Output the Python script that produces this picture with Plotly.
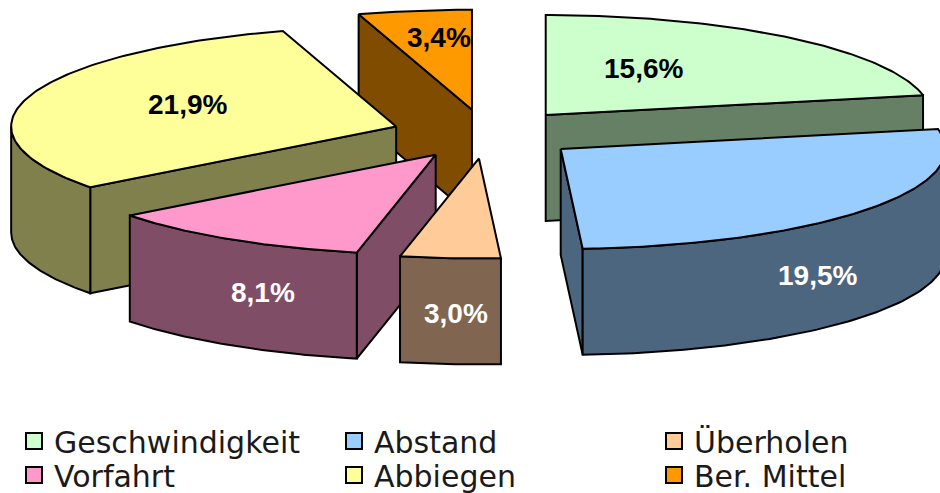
import numpy as np
import plotly.graph_objects as go

# Data
categories = ["Geschwindigkeit", "Abstand", "Überholen", "Vorfahrt", "Abbiegen", "Ber. Mittel"]
values = [15.6, 19.5, 3.0, 8.1, 21.9, 3.4]

# Style
top_colors = ["#CCFFCC", "#99CCFF", "#FFCC99", "#FF99CC", "#FFFF99", "#FF9900"]
side_colors = ["#668066", "#4D6680", "#806650", "#804D66", "#80804D", "#804D00"]
label_colors = ["black", "white", "white", "white", "black", "black"]
label_pos = [(643, 68), (817, 275), (456, 313), (263, 292), (187, 104), (439, 37)]
legend_ids = ["legend", "legend2", "legend3", "legend4", "legend5", "legend6"]
legend_pos = [(14, 441), (334, 441), (654, 441), (14, 475), (334, 475), (654, 475)]

# Pie projection
CX, CY = 486, 134
RX, RY = 385, 100
DEPTH = 106
EXPLODE = 0.245
W, H = 940, 493


def rim(t):
    return RX * np.sin(t), -RY * np.cos(t)


def polygon(xs, ys, color):
    return go.Scatter(
        x=list(xs) + [xs[0]], y=list(ys) + [ys[0]], mode="lines", fill="toself",
        fillcolor=color, line=dict(color="black", width=2),
        hoverinfo="skip", showlegend=False,
    )


total = sum(values)
edges = np.radians(np.concatenate([[0], np.cumsum(values)]) / total * 360)

slices = []
for i in range(len(values)):
    t1, t2 = edges[i], edges[i + 1]
    mx, my = rim((t1 + t2) / 2)
    slices.append((CX + EXPLODE * mx, CY + EXPLODE * my, t1, t2, i))
slices.sort(key=lambda s: s[1])

fig = go.Figure()
for ax, ay, t1, t2, i in slices:
    side = side_colors[i]
    # Visible cut face
    for t, visible in ((t1, np.sin(t1) < -1e-9), (t2, np.sin(t2) > 1e-9)):
        if visible:
            rx, ry = rim(t)
            fig.add_trace(polygon([ax, ax + rx, ax + rx, ax],
                                  [ay, ay + ry, ay + ry + DEPTH, ay + DEPTH], side))
    # Visible outer wall
    lo, hi = max(t1, np.pi / 2), min(t2, 3 * np.pi / 2)
    if lo < hi:
        ts = np.linspace(lo, hi, 80)
        rx, ry = rim(ts)
        fig.add_trace(polygon(list(ax + rx) + list(ax + rx[::-1]),
                              list(ay + ry) + list(ay + ry[::-1] + DEPTH), side))
    # Top face
    ts = np.linspace(t1, t2, 120)
    rx, ry = rim(ts)
    fig.add_trace(polygon([ax] + list(ax + rx), [ay] + list(ay + ry), top_colors[i]))

# Legend entries
for name, color, lid in zip(categories, top_colors, legend_ids):
    fig.add_trace(go.Scatter(
        x=[None], y=[None], mode="markers", name=name, legend=lid,
        marker=dict(symbol="square", size=16, color=color, line=dict(color="black", width=2)),
    ))

for v, (lx, ly), c in zip(values, label_pos, label_colors):
    fig.add_annotation(
        x=lx, y=ly, text=f"{v:.1f}%".replace(".", ","), showarrow=False,
        font=dict(family="Liberation Sans", size=28, color=c, weight="bold"),
    )

legends = {
    lid: dict(
        x=lx / W, y=1 - ly / H, xref="container", yref="container",
        xanchor="left", yanchor="middle", itemwidth=30,
        font=dict(family="DejaVu Sans", size=30, color="#1a1a1a"),
        bgcolor="rgba(0,0,0,0)",
    )
    for lid, (lx, ly) in zip(legend_ids, legend_pos)
}

fig.update_layout(
    width=W, height=H, margin=dict(l=0, r=0, t=0, b=0, autoexpand=False),
    paper_bgcolor="white", plot_bgcolor="white",
    xaxis=dict(range=[0, W], visible=False, fixedrange=True),
    yaxis=dict(range=[H, 0], visible=False, fixedrange=True),
    showlegend=True,
    **legends,
)

fig.write_html("out.html", config={"displayModeBar": False},
               post_script="document.body.style.margin='0';")
